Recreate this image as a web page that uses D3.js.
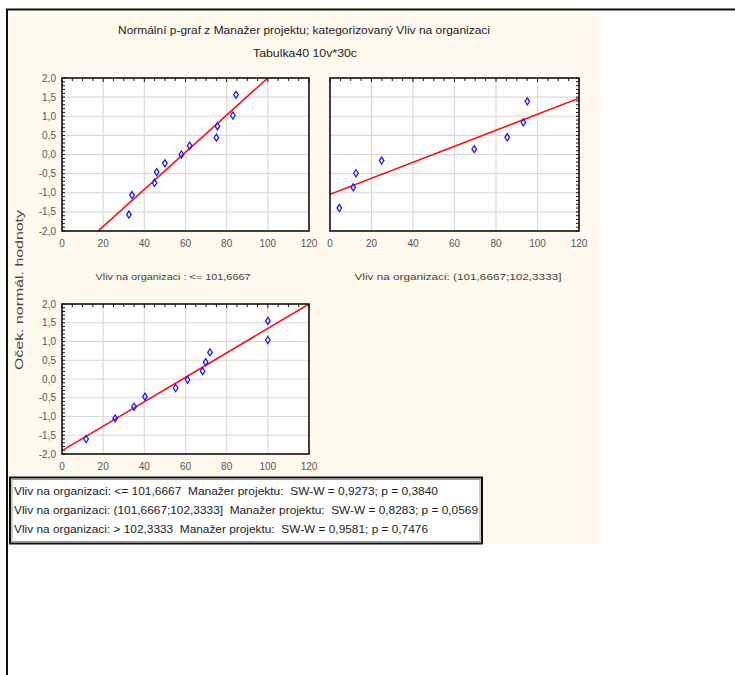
<!DOCTYPE html>
<html><head><meta charset="utf-8">
<script src="https://cdn.jsdelivr.net/npm/d3@7"></script>
<style>body{margin:0;background:#fff}svg{display:block}.pre{white-space:pre}</style>
</head><body>
<script>
// ---- data ----
const chartTitle = "Normální p-graf z Manažer projektu; kategorizovaný Vliv na organizaci";
const chartSubtitle = "Tabulka40 10v*30c";
const yAxisLabel = "Oček. normál. hodnoty";
const xTicks = [0, 20, 40, 60, 80, 100, 120];
const yTicks = [-2, -1.5, -1, -0.5, 0, 0.5, 1, 1.5, 2];
const panelTitles = ["Vliv na organizaci : <= 101,6667", "Vliv na organizaci: (101,6667;102,3333]", ""];
const p1x = [32.5, 34, 45, 46, 50, 58, 62, 75, 75.5, 83, 84.5];
const p1y = [-1.57, -1.06, -0.74, -0.46, -0.23, 0, 0.23, 0.44, 0.74, 1.02, 1.56];
const p2x = [4.5, 11.2, 12.5, 24.9, 69.5, 85.4, 93.2, 95.1];
const p2y = [-1.40, -0.86, -0.49, -0.16, 0.14, 0.45, 0.84, 1.39];
const p3x = [11.7, 25.8, 35, 40.3, 55.2, 61, 68.3, 69.8, 71.9, 100, 100];
const p3y = [-1.60, -1.05, -0.74, -0.47, -0.24, -0.02, 0.21, 0.45, 0.71, 1.04, 1.55];
const fitIntercept = [-2.854, -1.04, -1.91];
const fitSlope = [0.04854, 0.02092, 0.03258];
const legendLines = [
  "Vliv na organizaci: <= 101,6667  Manažer projektu:  SW-W = 0,9273; p = 0,3840",
  "Vliv na organizaci: (101,6667;102,3333]  Manažer projektu:  SW-W = 0,8283; p = 0,0569",
  "Vliv na organizaci: > 102,3333  Manažer projektu:  SW-W = 0,9581; p = 0,7476"
];

// ---- layout ----
const W = 735, H = 675;
const svg = d3.select("body").append("svg").attr("width", W).attr("height", H);
const narrow = "'Liberation Sans Narrow', 'Arial Narrow', 'Liberation Sans', Arial, sans-serif";
const sans = "'Liberation Sans', Arial, sans-serif";

svg.append("rect").attr("x", 8).attr("y", 10).attr("width", 592).attr("height", 534).attr("fill", "#fffaee");
svg.append("line").attr("x1", 6).attr("x2", W).attr("y1", 9.5).attr("y2", 9.5).attr("stroke", "#111").attr("stroke-width", 2);
svg.append("line").attr("x1", 7).attr("x2", 7).attr("y1", 9).attr("y2", H).attr("stroke", "#111").attr("stroke-width", 2);

svg.append("text").attr("x", 304).attr("y", 34).attr("text-anchor", "middle")
  .attr("font-family", narrow).attr("font-size", 11).attr("fill", "#222")
  .attr("textLength", 372).attr("lengthAdjust", "spacingAndGlyphs").text(chartTitle);
svg.append("text").attr("x", 305).attr("y", 57).attr("text-anchor", "middle")
  .attr("font-family", narrow).attr("font-size", 11).attr("fill", "#222")
  .attr("textLength", 104).attr("lengthAdjust", "spacingAndGlyphs").text(chartSubtitle);

svg.append("text").attr("transform", "translate(23,290) rotate(-90)").attr("text-anchor", "middle")
  .attr("font-family", sans).attr("font-size", 10).attr("fill", "#444")
  .attr("textLength", 160).attr("lengthAdjust", "spacingAndGlyphs").text(yAxisLabel);

const panels = [
  {x0: 62, x1: 309, y0: 78, y1: 231, xs: p1x, ys: p1y, yLabels: true, ticksRight: false, title: panelTitles[0], tx: 173, tw: 155},
  {x0: 330, x1: 579, y0: 78, y1: 231, xs: p2x, ys: p2y, yLabels: false, ticksRight: true, title: panelTitles[1], tx: 458, tw: 207},
  {x0: 62, x1: 309, y0: 304, y1: 454, xs: p3x, ys: p3y, yLabels: true, ticksRight: false, title: "", tx: 0, tw: 0}
];

panels.forEach((p, i) => {
  const x = d3.scaleLinear().domain([0, 120]).range([p.x0, p.x1]);
  const y = d3.scaleLinear().domain([-2, 2]).range([p.y1, p.y0]);
  const g = svg.append("g");
  g.append("rect").attr("x", p.x0).attr("y", p.y0).attr("width", p.x1 - p.x0).attr("height", p.y1 - p.y0).attr("fill", "#fff");
  // grid
  g.append("g").selectAll("line").data(xTicks.slice(1, -1)).join("line")
    .attr("x1", d => x(d)).attr("x2", d => x(d)).attr("y1", p.y0).attr("y2", p.y1)
    .attr("stroke", "#d9d9d9").attr("stroke-width", 1.2);
  g.append("g").selectAll("line").data(yTicks.slice(1, -1)).join("line")
    .attr("y1", d => y(d)).attr("y2", d => y(d)).attr("x1", p.x0).attr("x2", p.x1)
    .attr("stroke", "#d9d9d9").attr("stroke-width", 1.2);
  // minor ticks (inside, top and side)
  const xm = d3.range(0, 121, 5);
  g.append("g").selectAll("line").data(xm).join("line")
    .attr("x1", d => x(d)).attr("x2", d => x(d)).attr("y1", p.y0).attr("y2", d => p.y0 + (d % 20 === 0 ? 4 : 3))
    .attr("stroke", "#111").attr("stroke-width", 1);
  const ym = d3.range(-20, 21, 1).map(v => v / 10);
  const sx = p.ticksRight ? p.x1 : p.x0, dir = p.ticksRight ? -1 : 1;
  g.append("g").selectAll("line").data(ym).join("line")
    .attr("y1", d => y(d)).attr("y2", d => y(d)).attr("x1", sx).attr("x2", sx + dir * 3)
    .attr("stroke", "#111").attr("stroke-width", 1);
  // fit line
  const cid = "clip" + i;
  svg.append("clipPath").attr("id", cid).append("rect")
    .attr("x", p.x0).attr("y", p.y0).attr("width", p.x1 - p.x0).attr("height", p.y1 - p.y0);
  const lx = [0, 120];
  g.append("path").attr("clip-path", `url(#${cid})`)
    .attr("d", d3.line().x(d => x(d)).y(d => y(fitIntercept[i] + fitSlope[i] * d))(lx))
    .attr("stroke", "#ff1010").attr("stroke-width", 1.6).attr("fill", "none");
  // points
  const pts = p.xs.map((v, k) => [v, p.ys[k]]);
  g.append("g").selectAll("path").data(pts).join("path")
    .attr("d", d => { const cx = x(d[0]), cy = y(d[1]); return `M${cx},${cy-3.5}L${cx+2.3},${cy}L${cx},${cy+3.5}L${cx-2.3},${cy}Z`; })
    .attr("fill", "none").attr("stroke", "#1a1aff").attr("stroke-width", 1.3);
  // frame
  g.append("rect").attr("x", p.x0).attr("y", p.y0).attr("width", p.x1 - p.x0).attr("height", p.y1 - p.y0)
    .attr("fill", "none").attr("stroke", "#111").attr("stroke-width", 1.6);
  // x labels
  g.append("g").selectAll("text").data(xTicks).join("text")
    .attr("x", d => x(d)).attr("y", p.y1 + 16).attr("text-anchor", "middle")
    .attr("font-family", sans).attr("font-size", 10).attr("fill", "#555").text(d => d);
  if (p.yLabels) {
    g.append("g").selectAll("text").data(yTicks).join("text")
      .attr("x", p.x0 - 6).attr("y", d => y(d) + 3.5).attr("text-anchor", "end")
      .attr("font-family", sans).attr("font-size", 10).attr("fill", "#555")
      .text(d => d3.format(".1f")(d).replace("−", "-").replace(".", ","));
  }
  if (p.title) {
    g.append("text").attr("x", p.tx).attr("y", 280).attr("text-anchor", "middle")
      .attr("font-family", sans).attr("font-size", 9).attr("fill", "#444")
      .attr("textLength", p.tw).attr("lengthAdjust", "spacingAndGlyphs").text(p.title);
  }
});

// legend box
svg.append("rect").attr("x", 10).attr("y", 477.5).attr("width", 472).attr("height", 66)
  .attr("fill", "#fff").attr("stroke", "#111").attr("stroke-width", 2);
svg.append("rect").attr("x", 12).attr("y", 479.5).attr("width", 468).attr("height", 62)
  .attr("fill", "none").attr("stroke", "#999").attr("stroke-width", 1);
const legW = [424, 464, 414];
legendLines.forEach((t, i) => {
  svg.append("text").attr("class", "pre").attr("x", 14).attr("y", 495 + i * 19)
    .attr("font-family", narrow).attr("font-size", 11).attr("fill", "#222")
    .attr("textLength", legW[i]).attr("lengthAdjust", "spacingAndGlyphs").text(t);
});
</script>
</body></html>
